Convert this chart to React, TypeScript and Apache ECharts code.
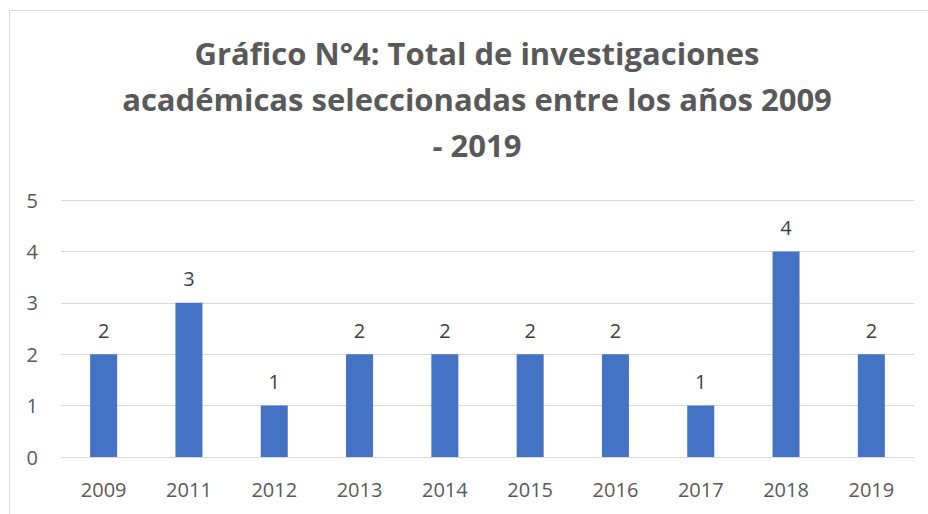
import React, { useEffect, useRef } from "react";
import * as echarts from "echarts";

const categories = ["2009", "2011", "2012", "2013", "2014", "2015", "2016", "2017", "2018", "2019"];
const values = [2, 3, 1, 2, 2, 2, 2, 1, 4, 2];
const titleLines = [
  "Gráfico N°4: Total de investigaciones",
  "académicas seleccionadas entre los años 2009",
  "- 2019",
];
const yMin = 0;
const yMax = 5;
const yInterval = 1;

export default function App() {
  const ref = useRef<HTMLDivElement>(null);
  useEffect(() => {
    if (!ref.current) return;
    const chart = echarts.init(ref.current, null, { renderer: "svg" });
    const font = "'Open Sans', sans-serif";
    chart.setOption({
      animation: false,
      backgroundColor: "#ffffff",
      title: {
        text: titleLines.join("\n"),
        left: 472,
        top: 25,
        textAlign: "center",
        textStyle: {
          fontFamily: font,
          fontWeight: "bold",
          fontSize: 31,
          lineHeight: 46,
          color: "#595959",
        },
      },
      graphic: [
        {
          type: "rect",
          shape: { x: 9.5, y: 10.5, width: 1000, height: 1000 },
          style: { fill: "none", stroke: "#d9d9d9", lineWidth: 1 },
          silent: true,
        },
      ],
      grid: { left: 61, right: 14, top: 200, bottom: 57 },
      xAxis: {
        type: "category",
        data: categories,
        axisLine: { show: true, lineStyle: { color: "#d9d9d9", width: 1 } },
        axisTick: { show: false },
        axisLabel: { color: "#595959", fontFamily: font, fontSize: 20, margin: 22 },
      },
      yAxis: {
        type: "value",
        min: yMin,
        max: yMax,
        interval: yInterval,
        axisLine: { show: false },
        axisTick: { show: false },
        splitLine: { lineStyle: { color: "#d9d9d9", width: 1 } },
        axisLabel: { color: "#595959", fontFamily: font, fontSize: 20, margin: 23 },
      },
      series: [
        {
          type: "bar",
          data: values,
          barWidth: 27,
          itemStyle: { color: "#4472C4" },
          label: {
            show: true,
            position: "top",
            distance: 14,
            color: "#404040",
            fontFamily: font,
            fontSize: 20,
          },
        },
      ],
    });
    return () => chart.dispose();
  }, []);
  return (
    <div
      ref={ref}
      style={{ position: "absolute", left: 0, top: 0, width: 928, height: 514 }}
    />
  );
}
